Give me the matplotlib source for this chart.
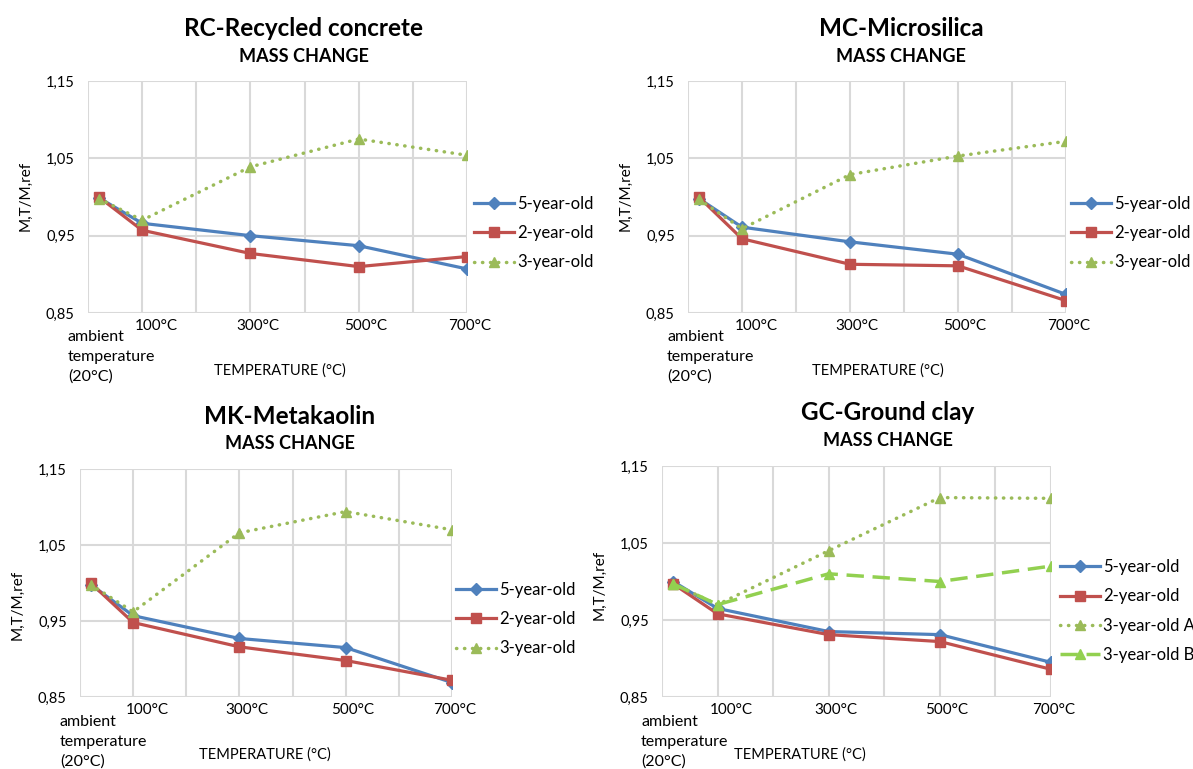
import numpy as np
import matplotlib
matplotlib.use("Agg")
import matplotlib.pyplot as plt
import matplotlib.transforms as mtransforms

plt.rcParams['font.family'] = ['Lato', 'DejaVu Sans']

W, H = 1193, 769

# data
temps = [20, 100, 300, 500, 700]
tick_temps = [100, 300, 500, 700]
tick_labels = ['100°C', '300°C', '500°C', '700°C']
ambient_lines = ['ambient', 'temperature', '(20°C)']

rc_5 = [0.999, 0.966, 0.950, 0.937, 0.907]
rc_2 = [1.000, 0.957, 0.927, 0.910, 0.923]
rc_3 = [0.998, 0.970, 1.039, 1.075, 1.054]

mc_5 = [0.998, 0.961, 0.942, 0.926, 0.874]
mc_2 = [1.000, 0.946, 0.913, 0.911, 0.866]
mc_3 = [0.997, 0.959, 1.029, 1.053, 1.072]

mk_5 = [0.998, 0.957, 0.927, 0.915, 0.869]
mk_2 = [1.000, 0.948, 0.916, 0.898, 0.872]
mk_3 = [0.998, 0.962, 1.066, 1.094, 1.070]

gc_5 = [1.000, 0.965, 0.935, 0.931, 0.895]
gc_2 = [0.997, 0.958, 0.931, 0.922, 0.886]
gc_3a = [0.997, 0.970, 1.040, 1.109, 1.108]
gc_3b = [0.997, 0.970, 1.010, 1.000, 1.020]

BLUE = '#4F81BD'
RED = '#C0504D'
GREEN = '#9BBB59'
LGREEN = '#92D050'

DOT = (0, (0.1, 2.2))
DASH = (0, (5, 2.5))

# horizontal nudge (px) of each temperature label, as in the source chart
label_nudge = {100: 14, 300: 7, 500: 7, 700: 3}


def fx(x):
    return x / W


def fy(y):
    return 1 - y / H


def make_panel(x0, x700, top, bottom, title, title_x, series, leg_x, leg_y,
               ylab_y, amb_x, amb_y, temp_x):
    ax = fig.add_axes([fx(x0), fy(bottom), fx(x700 - x0), (bottom - top) / H])
    for vals, lab, col, ls, mk in series:
        solid = ls == '-'
        ax.plot(temps, vals, color=col, ls=ls, lw=2.3 if solid else 2.5,
                marker=mk, ms=6.5, mfc=col, mec=col, label=lab,
                dash_capstyle='round' if ls == DOT else 'butt', zorder=3)
    ax.set_xlim(0, 700)
    ax.set_ylim(0.85, 1.15)
    grid_x = list(range(0, 701, 100))
    ax.set_xticks(grid_x)
    ax.set_xticklabels(['' if t not in tick_temps else tick_labels[tick_temps.index(t)]
                        for t in grid_x], fontsize=11)
    ax.set_yticks([0.85, 0.95, 1.05, 1.15])
    ax.set_yticklabels(['0,85', '0,95', '1,05', '1,15'], fontsize=10.5)
    ax.tick_params(axis='x', length=0, pad=4)
    ax.tick_params(axis='y', length=0, pad=9.5)
    for t, lbl in zip(grid_x, ax.get_xticklabels()):
        if t in label_nudge:
            off = mtransforms.ScaledTranslation(label_nudge[t] / 100, 0,
                                                fig.dpi_scale_trans)
            lbl.set_transform(lbl.get_transform() + off)
    ax.grid(True, color='#D9D9D9', lw=1.5)
    ax.set_axisbelow(True)
    for s in ax.spines.values():
        s.set_visible(False)

    fig.text(fx(title_x), fy(top - 53), title, ha='center', va='center',
             fontsize=17.5, fontweight='bold')
    fig.text(fx(title_x), fy(top - 25), 'MASS CHANGE', ha='center', va='center',
             fontsize=13, fontweight='bold')
    fig.text(fx(x0 - 62), fy(ylab_y), 'M,T/M,ref', rotation=90, ha='center',
             va='center', fontsize=11)
    # ambient label: one text per line so it sits beside the 100°C label
    for i, line in enumerate(ambient_lines):
        fig.text(fx(amb_x), fy(amb_y + 8 + i * 20), line, ha='left',
                 va='center', fontsize=11.5)
    fig.text(fx(temp_x), fy(bottom + 58), 'TEMPERATURE (°C)', ha='center',
             va='center', fontsize=10.5)
    ax.legend(loc='center left', bbox_to_anchor=(fx(leg_x), fy(leg_y)),
              bbox_transform=fig.transFigure, frameon=False, fontsize=12,
              handlelength=2.4, handletextpad=0.2, labelspacing=0.8,
              borderpad=0, borderaxespad=0)
    return ax


fig = plt.figure(figsize=(W / 100, H / 100), dpi=100)

three = [
    ('5-year-old', BLUE, '-', 'D'),
    ('2-year-old', RED, '-', 's'),
    ('3-year-old', GREEN, DOT, '^'),
]

make_panel(88, 467, 81, 313, 'RC-Recycled concrete', 304,
           [(v,) + s for v, s in zip([rc_5, rc_2, rc_3], three)],
           474, 233, 196, 68, 329, 280)
make_panel(688, 1066, 81, 313, 'MC-Microsilica', 901,
           [(v,) + s for v, s in zip([mc_5, mc_2, mc_3], three)],
           1071, 233, 196, 667, 329, 878)
make_panel(80, 452, 469, 697, 'MK-Metakaolin', 290,
           [(v,) + s for v, s in zip([mk_5, mk_2, mk_3], three)],
           456, 619, 605, 60, 714, 265)
make_panel(662, 1051, 466, 697, 'GC-Ground clay', 888,
           [(gc_5, '5-year-old', BLUE, '-', 'D'),
            (gc_2, '2-year-old', RED, '-', 's'),
            (gc_3a, '3-year-old A', GREEN, DOT, '^'),
            (gc_3b, '3-year-old B', LGREEN, DASH, '^')],
           1060, 611, 585, 641, 714, 800)

fig.savefig('out.png', dpi=100)
